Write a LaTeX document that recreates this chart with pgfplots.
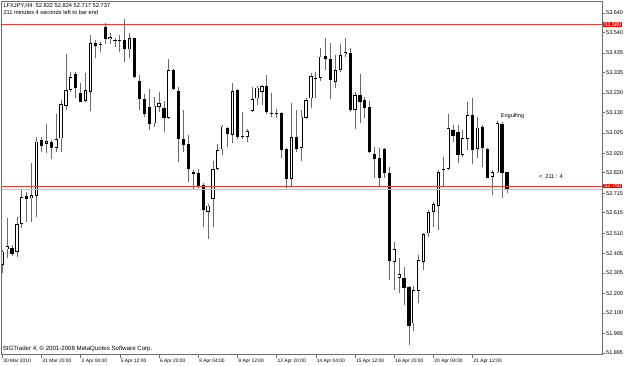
\documentclass[border=0pt]{standalone}
\usepackage{pgfplots}
\pgfplotsset{compat=1.18}
\usepackage{pgfplotstable}
\usepackage{fontspec}
\setmainfont{Liberation Sans}
\definecolor{wick}{RGB}{105,105,105}
\definecolor{hline}{RGB}{232,60,60}
\definecolor{bidline}{RGB}{195,195,195}
\definecolor{frame}{RGB}{110,110,110}

\pgfplotstableread{
i o h l c
0 52.347 52.424 52.307 52.415
1 52.427 52.590 52.381 52.444
2 52.436 52.449 52.395 52.401
3 52.412 52.595 52.390 52.556
4 52.556 52.732 52.538 52.697
5 52.703 52.720 52.566 52.685
6 52.689 52.868 52.569 52.706
7 52.703 53.005 52.595 52.980
8 52.988 53.005 52.928 52.957
9 52.970 53.069 52.920 52.983
10 52.980 52.988 52.891 52.949
11 52.949 53.120 52.928 52.993
12 52.997 53.193 52.928 53.171
13 53.165 53.428 53.142 53.245
14 53.245 53.336 53.236 53.312
15 53.325 53.336 53.202 53.253
16 53.228 53.279 53.182 53.185
17 53.188 53.330 53.185 53.245
18 53.236 53.527 53.137 53.484
19 53.488 53.501 53.407 53.472
20 53.479 53.493 53.442 53.476
21 53.566 53.587 53.479 53.505
22 53.505 53.536 53.479 53.515
23 53.501 53.510 53.467 53.498
24 53.500 53.527 53.442 53.496
25 53.501 53.609 53.390 53.454
26 53.454 53.536 53.407 53.510
27 53.510 53.513 53.308 53.313
28 53.291 53.322 53.142 53.199
29 53.197 53.223 53.108 53.120
30 53.159 53.250 53.040 53.069
31 53.074 53.211 53.057 53.165
32 53.159 53.236 53.134 53.176
33 53.154 53.188 53.031 53.099
34 53.103 53.404 53.096 53.347
35 53.347 53.351 53.245 53.250
36 53.240 53.262 52.874 52.993
37 52.993 53.142 52.925 52.963
38 52.966 53.014 52.774 52.839
39 52.826 52.834 52.732 52.812
40 52.817 52.839 52.740 52.754
41 52.757 52.766 52.543 52.629
42 52.620 52.658 52.480 52.651
43 52.685 52.880 52.543 52.839
44 52.839 52.966 52.834 52.937
45 52.940 53.065 52.911 53.057
46 53.048 53.057 52.954 53.017
47 53.014 53.279 52.971 53.240
48 53.245 53.250 52.993 53.005
49 53.007 53.134 52.993 53.002
50 53.004 53.045 52.980 53.035
51 53.137 53.262 53.130 53.199
52 53.202 53.267 53.168 53.257
53 53.236 53.270 53.168 53.265
54 53.265 53.322 53.120 53.130
55 53.127 53.228 53.108 53.122
56 53.129 53.147 53.099 53.123
57 53.125 53.130 52.894 52.937
58 52.942 52.949 52.740 52.788
59 52.788 53.176 52.749 53.005
60 53.002 53.142 52.925 52.942
61 52.949 53.142 52.880 53.108
62 53.103 53.202 53.096 53.193
63 53.202 53.330 53.151 53.317
64 53.305 53.339 53.202 53.308
65 53.308 53.462 53.291 53.416
66 53.421 53.513 53.348 53.404
67 53.404 53.484 53.199 53.296
68 53.288 53.425 53.253 53.347
69 53.347 53.479 53.339 53.425
70 53.428 53.510 53.416 53.438
71 53.433 53.459 53.134 53.142
72 53.142 53.233 53.045 53.219
73 53.219 53.325 53.074 53.185
74 53.193 53.211 53.103 53.151
75 53.159 53.188 52.920 52.928
76 52.915 52.954 52.792 52.891
77 52.894 52.949 52.754 52.792
78 52.942 52.946 52.792 52.817
79 52.817 52.851 52.270 52.367
80 52.364 52.467 52.218 52.427
81 52.282 52.381 52.201 52.299
82 52.278 52.338 52.142 52.227
83 52.235 52.241 51.936 52.035
84 52.047 52.240 52.010 52.218
85 52.213 52.398 52.150 52.372
86 52.364 52.509 52.321 52.504
87 52.509 52.629 52.492 52.617
88 52.620 52.672 52.543 52.658
89 52.651 52.834 52.526 52.822
90 52.841 52.903 52.749 52.836
91 52.839 53.120 52.834 53.048
92 53.040 53.065 52.980 53.010
93 53.031 53.065 52.868 52.911
94 52.911 53.040 52.903 52.997
95 52.993 53.182 52.937 53.117
96 53.117 53.206 52.863 52.937
97 52.942 53.108 52.894 53.052
98 53.057 53.065 52.851 52.946
99 52.942 52.949 52.792 52.795
100 52.800 52.834 52.706 52.822
101 52.822 53.086 52.817 53.074
102 53.069 53.082 52.692 52.817
103 52.822 52.824 52.717 52.737
}\data

\begin{document}
\begin{tikzpicture}
\useasboundingbox (0,0) rectangle (625pt,365pt);
\begin{axis}[
  at={(1.5pt,10.5pt)}, anchor=south west,
  scale only axis, width=600.5pt, height=353.5pt,
  xmin=-0.163, xmax=122.39, ymin=51.887, ymax=53.702,
  clip mode=individual,
  axis line style={frame, line width=0.6pt},
  tick style={frame, line width=0.6pt},
  tick align=outside, major tick length=3pt,
  xtick={0,8,...,96},
  xticklabels={30 Mar 2010,31 Mar 20:00,2 Apr 04:00,5 Apr 12:00,6 Apr 20:00,8 Apr 04:00,9 Apr 12:00,12 Apr 20:00,14 Apr 04:00,15 Apr 12:00,16 Apr 20:00,20 Apr 04:00,21 Apr 12:00},
  xtick pos=left,
  ytick pos=right,
  yticklabel pos=right,
  ytick={51.895,51.995,52.100,52.200,52.305,52.405,52.510,52.615,52.715,52.820,52.920,53.025,53.130,53.230,53.335,53.435,53.540,53.640},
  yticklabels={51.895,51.995,52.100,52.200,52.305,52.405,52.510,52.615,52.715,52.820,52.920,53.025,53.130,53.230,53.335,53.435,53.540,53.640},
  x tick label style={font=\fontsize{4.9}{5}\selectfont, anchor=north west, inner sep=0.5pt, xshift=0.3pt, yshift=-0.8pt},
  y tick label style={font=\fontsize{5.5}{6}\selectfont, anchor=west, inner sep=1pt},
]
% wicks
\addplot[draw=none, mark=none, forget plot,
  error bars/.cd, y dir=plus, y explicit, error mark=none,
  error bar style={line width=0.8pt, draw=wick}]
  table[x=i, y=l, y error plus expr=\thisrow{h}-\thisrow{l}] {\data};
% bodies (black outline / fill)
\addplot[draw=none, mark=none, forget plot,
  error bars/.cd, y dir=plus, y explicit, error mark=none,
  error bar style={line width=3.2pt, draw=black}]
  table[x=i, y expr={min(\thisrow{o},\thisrow{c})}, y error plus expr={max(abs(\thisrow{c}-\thisrow{o}),0.004)}] {\data};
% hollow interior of bullish bodies
\addplot[draw=none, mark=none, forget plot,
  error bars/.cd, y dir=plus, y explicit, error mark=none,
  error bar style={line width=1.6pt, draw=white}]
  table[x=i, y expr={min(\thisrow{o},\thisrow{c})+0.004}, y error plus expr={max(\thisrow{c}-\thisrow{o}-0.008,0)}] {\data};
% horizontal lines
\addplot[hline, line width=0.8pt, forget plot] coordinates {(-5,53.580) (130,53.580)};
\addplot[bidline, line width=0.8pt, forget plot] coordinates {(-5,52.737) (130,52.737)};
\addplot[hline, line width=0.9pt, forget plot] coordinates {(-5,52.750) (130,52.750)};
% annotations
\node[font=\fontsize{5.6}{6}\selectfont, anchor=west, inner sep=0pt] at (axis cs:101.7,53.109) {Engulfing};
\node[font=\fontsize{5.6}{6}\selectfont, anchor=west, inner sep=0pt] at (axis cs:109.5,52.803) {<\ \ 211 : 4};
% price labels on the right
\node[fill=red, text=white, anchor=west, font=\fontsize{5.5}{6}\selectfont, inner xsep=1.2pt, inner ysep=0.5pt, xshift=1pt] at ({rel axis cs:1,0} |- {axis cs:0,53.580}) {53.580};
\node[fill=red, text=white, anchor=west, font=\fontsize{5.5}{6}\selectfont, inner xsep=1.2pt, inner ysep=0.5pt, xshift=1pt] at ({rel axis cs:1,0} |- {axis cs:0,52.752}) {52.750};
\end{axis}
% top frame line
\draw[frame, line width=0.6pt] (1.5pt,364pt) -- (602pt,364pt);
\node[font=\fontsize{5.7}{6}\selectfont, anchor=west, inner sep=0pt] at (3.3pt,359pt) {LFXJPY,H4\ \ 52.822 52.824 52.717 52.737};
\node[font=\fontsize{5.7}{6}\selectfont, anchor=west, inner sep=0pt] at (3.3pt,352.3pt) {211 minutes 4 seconds left to bar end};
\node[font=\fontsize{6.1}{7}\selectfont, anchor=west, inner sep=0pt] at (2.7pt,16pt) {SIGTrader 4, © 2001-2008 MetaQuotes Software Corp.};
\end{tikzpicture}
\end{document}
